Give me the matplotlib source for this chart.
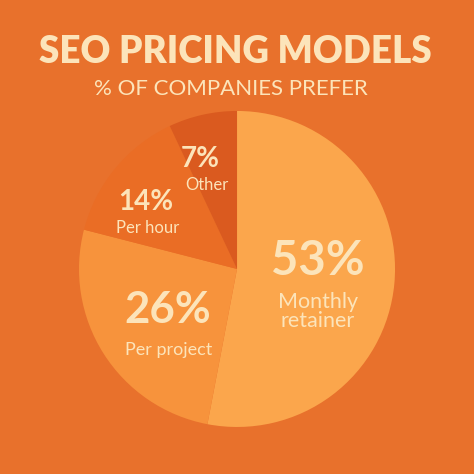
import matplotlib.pyplot as plt

# data
categories = ['Monthly\nretainer', 'Per project', 'Per hour', 'Other']
shares = [53, 26, 14, 7]
slice_colors = ['#FBA64C', '#F7933C', '#EA6D25', '#DA5A1F']

bg = '#E8712C'
cream = '#FCE4BA'

fig = plt.figure(figsize=(4.74, 4.74), dpi=100, facecolor=bg)

# titles
fig.text(0.497, 0.867, 'SEO PRICING MODELS', ha='center', va='baseline',
         fontsize=26.5, fontweight='heavy', color=cream, family='Lato')
fig.text(0.488, 0.800, '% OF COMPANIES PREFER', ha='center', va='baseline',
         fontsize=16, color=cream, family='Lato')

# pie
ax = fig.add_axes([0.1667, 0.0992, 0.6667, 0.6667])
ax.set_facecolor(bg)
ax.pie(shares, colors=slice_colors, startangle=90, counterclock=False,
       radius=1, wedgeprops=dict(linewidth=0))
ax.set_xlim(-1, 1)
ax.set_ylim(-1, 1)
ax.set_aspect('equal')
ax.axis('off')

# labels (positions relative to pie, radius 1)
num_pos = [(0.513, -0.038), (-0.437, -0.342), (-0.576, 0.373), (-0.234, 0.646)]
num_size = [34, 31.5, 20, 20]
lab_pos = [(0.513, -0.146), (-0.430, -0.544), (-0.563, 0.228), (-0.19, 0.50)]
lab_size = [15.5, 13, 12, 12]

for i, v in enumerate(shares):
    ax.text(num_pos[i][0], num_pos[i][1], f'{v}%', ha='center', va='baseline',
            fontsize=num_size[i], fontweight='bold', color=cream, family='Lato')
    ax.text(lab_pos[i][0], lab_pos[i][1], categories[i], ha='center',
            va='top' if i == 0 else 'baseline', ma='center',
            fontsize=lab_size[i], color=cream, family='Lato', linespacing=0.95)

fig.savefig('out.png', dpi=100, facecolor=bg)
